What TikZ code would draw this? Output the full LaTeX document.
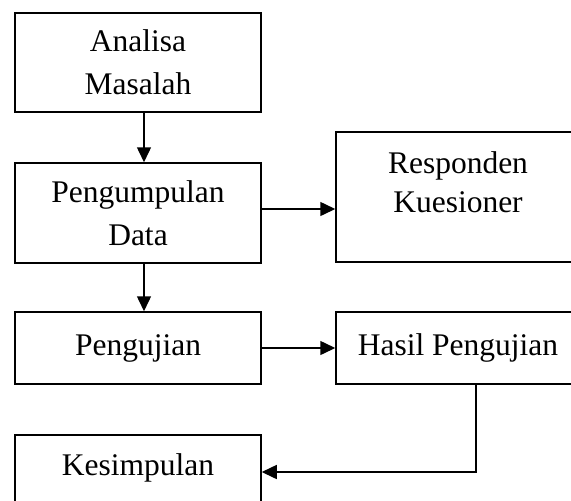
\documentclass[tikz,border=0pt]{standalone}
\usepackage{fontspec}
\setmainfont{Liberation Serif}
\usetikzlibrary{arrows.meta,calc}
\begin{document}
\begin{tikzpicture}[x=1pt,y=-1pt,
  box/.style={draw=black, line width=1.5pt, rectangle, inner sep=0pt, align=center,
    font=\fontsize{31.5}{43}\selectfont},
  lbl/.style={inner sep=0pt, align=center, font=\fontsize{31.5}{39}\selectfont},
  arr/.style={draw=black, line width=1.5pt, -{Triangle[length=15pt,width=14pt]}}]
\useasboundingbox (0,0) rectangle (571,501);
\fill[white] (0,0) rectangle (571,501);
% boxes
\node[box, minimum width=246pt, minimum height=99pt]  (am) at (138,62.5) {Analisa\\Masalah};
\node[box, minimum width=246pt, minimum height=100pt] (pd) at (138,213) {Pengumpulan\\Data};
\node[box, minimum width=244pt, minimum height=130pt] (rk) at (458,197) {};
\node[lbl] (rktext) at (458,181.75) {Responden\\Kuesioner};
\node[box, minimum width=246pt, minimum height=72pt]  (pj) at (138,348) {Pengujian};
\node[box, minimum width=244pt, minimum height=72pt]  (hp) at (458,348) {Hasil Pengujian};
\node[box, minimum width=246pt, minimum height=74pt]  (ks) at (138,472) {};
\node[lbl] (kstext) at (138,467.6) {Kesimpulan};
% connectors
\draw[arr] ([xshift=6pt]am.south) -- ([xshift=6pt]am.south |- pd.north);
\draw[arr] ([yshift=4pt]pd.east) -- ([yshift=4pt]pd.east -| rk.west);
\draw[arr] ([xshift=6pt]pd.south) -- ([xshift=6pt]pd.south |- pj.north);
\draw[arr] (pj.east) -- (hp.west);
\draw[arr] ([xshift=18pt]hp.south) |- (ks.east);
\end{tikzpicture}
\end{document}
